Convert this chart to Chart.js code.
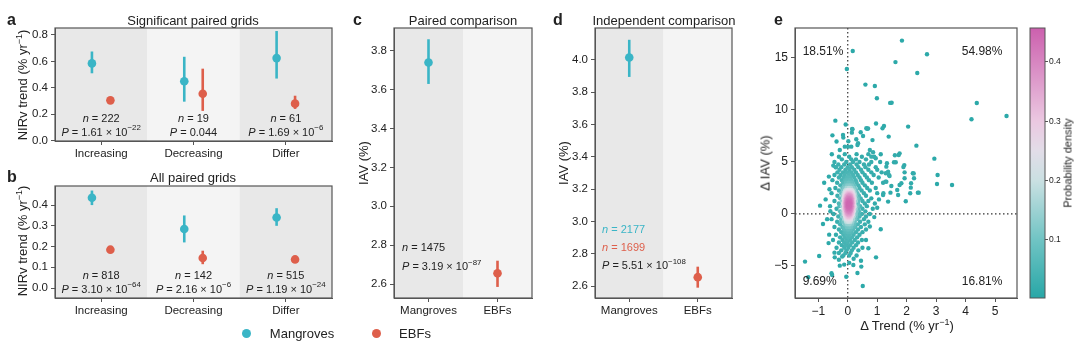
<!DOCTYPE html>
<html>
<head>
<meta charset="utf-8">
<script src="https://cdn.jsdelivr.net/npm/chart.js@4.4.1/dist/chart.umd.min.js"></script>
<style>
body { margin: 0; width: 1080px; height: 350px; background: #fff; position: relative; overflow: hidden;
       font-family: "Liberation Sans", Arial, sans-serif; color: #222; }
canvas { position: absolute; }
.t { position: absolute; white-space: nowrap; line-height: 1; transform: translate(-50%, -50%); font-size: 13px; }
.r { transform: translate(-50%, -50%) rotate(-90deg); }
.lab { position: absolute; font-weight: bold; font-size: 16px; line-height: 1; }
.dot { position: absolute; width: 9px; height: 9px; border-radius: 50%; }
sup { font-size: 9px; }
</style>
</head>
<body>
<canvas id="cA" width="340" height="165" style="left:0;top:0"></canvas>
<canvas id="cB" width="340" height="165" style="left:0;top:160px"></canvas>
<canvas id="cC" width="200" height="325" style="left:340px;top:0"></canvas>
<canvas id="cD" width="200" height="325" style="left:540px;top:0"></canvas>
<canvas id="cE" width="285" height="340" style="left:740px;top:0"></canvas>
<canvas id="cBar" width="40" height="325" style="left:1025px;top:0"></canvas>

<div class="lab" style="left:7px;top:12px">a</div>
<div class="lab" style="left:7px;top:169px">b</div>
<div class="lab" style="left:353px;top:12px">c</div>
<div class="lab" style="left:553px;top:12px">d</div>
<div class="lab" style="left:774px;top:12px">e</div>

<div class="t" style="left:193px;top:20px">Significant paired grids</div>
<div class="t" style="left:193px;top:177px">All paired grids</div>
<div class="t" style="left:463px;top:20px">Paired comparison</div>
<div class="t" style="left:664px;top:20px">Independent comparison</div>

<div class="t r" style="left:22px;top:85px">NIRv trend (% yr<sup>−1</sup>)</div>
<div class="t r" style="left:22px;top:241px">NIRv trend (% yr<sup>−1</sup>)</div>
<div class="t r" style="left:363px;top:163px">IAV (%)</div>
<div class="t r" style="left:563px;top:163px">IAV (%)</div>
<div class="t r" style="left:765px;top:163px">Δ IAV (%)</div>
<div class="t" style="left:907px;top:325px">Δ Trend (% yr<sup>−1</sup>)</div>
<div class="t r" style="left:1068px;top:163px;font-size:11px">Probability density</div>

<div class="dot" style="left:242px;top:329px;background:#3ab5c6"></div>
<div class="t" style="left:302px;top:333px">Mangroves</div>
<div class="dot" style="left:372px;top:329px;background:#de5f4b"></div>
<div class="t" style="left:415px;top:333px">EBFs</div>

<script>
// ---- data ----
const trendCats = ['Increasing', 'Decreasing', 'Differ'];

const sigMangrove = [0.585, 0.45, 0.625];
const sigMangroveLo = [0.51, 0.295, 0.47];
const sigMangroveHi = [0.675, 0.635, 0.83];
const sigEbf = [0.305, 0.355, 0.28];
const sigEbfLo = [0.29, 0.225, 0.24];
const sigEbfHi = [0.32, 0.545, 0.34];
const sigN = ['222', '19', '61'];
const sigP = [['1.61', '−22'], ['0.044', ''], ['1.69', '−6']];
const sigTicks = [0, 0.2, 0.4, 0.6, 0.8];

const allMangrove = [0.435, 0.285, 0.34];
const allMangroveLo = [0.40, 0.22, 0.30];
const allMangroveHi = [0.47, 0.35, 0.385];
const allEbf = [0.185, 0.145, 0.138];
const allEbfLo = [0.179, 0.115, 0.132];
const allEbfHi = [0.191, 0.18, 0.144];
const allN = ['818', '142', '515'];
const allP = [['3.10', '−64'], ['2.16', '−6'], ['1.19', '−24']];
const allTicks = [0, 0.1, 0.2, 0.3, 0.4];

const iavCats = ['Mangroves', 'EBFs'];
const pairedIav = [3.74, 2.655];
const pairedLo = [3.63, 2.585];
const pairedHi = [3.86, 2.72];
const pairedTicks = [2.6, 2.8, 3.0, 3.2, 3.4, 3.6, 3.8];

const indepIav = [4.015, 2.655];
const indepLo = [3.895, 2.59];
const indepHi = [4.125, 2.72];
const indepTicks = [2.6, 2.8, 3.0, 3.2, 3.4, 3.6, 3.8, 4.0];

const trendTicks = [-1, 0, 1, 2, 3, 4, 5];
const deltaIavTicks = [-5, 0, 5, 10, 15];
const quadrantPct = ['18.51%', '54.98%', '9.69%', '16.81%'];
const densityTicks = [0.1, 0.2, 0.3, 0.4];

// scattered points [dTrend, dIAV]
const scatterOuter = [
  [1.84,16.67],[0.17,15.67],[1.62,14.6],[2.69,15.35],[-0.03,13.94],[2.36,13.56],[0.6,12.44],[0.92,12.3],
  [0.99,11.12],[1.49,10.7],[1.44,10.68],[4.38,10.67],[4.2,9.1],[5.39,9.42],[-0.42,8.97],[-0.07,8.6],
  [0.96,8.7],[1.23,8.46],[1.18,8.24],[0.63,8.24],[0.69,8.22],[2.05,8.4],[0.15,8.17],[-0.52,7.56],
  [1.39,7.44],[0.84,7.1],[2.33,6.57],[-0.15,7.34],[-0.38,6.96],[0.01,6.47],[0.33,6.63],[-0.54,5.74],
  [1.76,5.83],[1.73,5.67],[1.6,5.64],[2.94,5.32],[0.8,5.51],[1.12,5.74],[-0.49,4.65],[-0.41,4.49],
  [1.57,4.97],[1.33,4.87],[1.89,4.52],[1.93,4.0],[1.29,3.91],[1.37,4.07],[1.4,3.75],[2.21,3.91],
  [3.05,3.75],[-0.64,3.59],[2.25,3.43],[1.28,3.11],[2.15,2.95],[3.03,2.88],[3.54,2.79],[-0.62,2.37],
  [1.76,2.79],[2.12,1.99],[2.41,2.05],[1.71,1.83],[1.45,2.05],[1.21,1.99],[1.97,1.22],[-0.94,0.8],
  [-0.59,0.26],[-0.84,-0.96],[1.12,-1.47],[-0.63,-1.99],[0.96,-4.17],[-1.45,-4.58],[-0.97,-4.04],
  [-0.45,-3.72],[-0.44,-4.17],[-0.19,-4.1],[0.19,-4.9],[0.46,-5.06],[0.33,-5.67],[-0.27,-4.97],
  [-0.12,-4.87],[-0.55,-5.7],[-0.53,-5.87],[-0.05,-6.03],[0.51,-6.92],[-1.34,-6.09],
  [0.16,8.14],[0.14,7.82],[-0.16,7.6],[0.44,7.85],[0.66,8.2],[0.52,7.5],[0.29,7.18],[0.35,6.8],
  [0.02,6.99],[0.12,6.47],[-0.1,6.47],[-0.27,6.15],[0.75,6.15],[0.86,5.93],[0.95,5.35],[1.31,4.55],
  [1.63,4.97],[1.92,4.7],[2.24,3.9],[1.93,3.43],[1.82,2.95],[1.68,2.3],[1.48,2.69],[1.31,3.1],
  [1.42,3.65],[1.2,1.83],[1.37,1.19],[2.38,2.05],[2.14,2.53],[1.06,1.4],[1.0,0.6],[0.9,-0.3],
  [0.75,-1.2],[0.62,-2.5],[0.7,-3.3],[-0.7,-0.5],[-0.75,1.4],[-0.8,3.0],[-0.65,-2.8],[0.45,-4.5],
  [0.05,-4.7],[-0.3,-4.4],[0.2,-4.3]
];
// loose cloud around the core, one row per dIAV level: [dIAV, [dTrend...]]
const scatterCoreRows = [
  [5.75, [-0.1, 0.3, 0.7]],
  [5.5, [-0.3, 0.05, 0.48, 0.9]],
  [5.25, [-0.2, 0.12, 0.28, 0.62]],
  [5.0, [-0.45, -0.05, 0.18, 0.4, 0.8, 1.1]],
  [4.75, [-0.32, -0.12, 0.08, 0.3, 0.55, 0.72]],
  [4.5, [-0.4, -0.22, 0.0, 0.14, 0.36, 0.6, 0.95]],
  [4.25, [-0.28, -0.08, 0.06, 0.22, 0.45, 0.7, 1.0]],
  [4.0, [-0.35, -0.16, -0.02, 0.12, 0.28, 0.5, 0.8, 1.15]],
  [3.75, [-0.45, -0.24, -0.1, 0.04, 0.18, 0.34, 0.58, 0.88]],
  [3.5, [-0.3, -0.14, 0.09, 0.22, 0.4, 0.65, 1.05]],
  [3.25, [-0.52, -0.2, -0.08, 0.13, 0.27, 0.45, 0.72]],
  [3.0, [-0.36, -0.16, 0.17, 0.3, 0.5, 0.82, 1.2]],
  [2.75, [-0.25, 0.21, 0.36, 0.58]],
  [2.5, [-0.42, -0.18, 0.24, 0.4, 0.66, 0.95]],
  [2.25, [-0.3, 0.29, 0.47, 0.75]],
  [2.0, [-0.55, -0.22, 0.33, 0.55, 1.0]],
  [1.75, [-0.35, 0.38, 0.62]],
  [1.5, [-0.26, 0.33, 0.44, 0.8]],
  [1.25, [-0.45, 0.36, 0.5, 0.7]],
  [1.0, [-0.3, 0.35, 0.58, 0.92]],
  [0.75, [-0.6, -0.28, 0.33, 0.42, 0.65]],
  [0.5, [-0.38, 0.36, 0.5, 0.85]],
  [0.25, [-0.26, 0.3, 0.38, 0.6]],
  [0.0, [-0.48, -0.22, 0.36, 0.48, 0.75]],
  [-0.25, [-0.32, 0.28, 0.4, 0.62]],
  [-0.5, [-0.55, -0.22, 0.25, 0.32, 0.55]],
  [-0.75, [-0.36, -0.22, 0.24, 0.42, 0.7]],
  [-1.0, [-0.26, 0.22, 0.34, 0.58]],
  [-1.25, [-0.45, -0.18, 0.2, 0.25, 0.45]],
  [-1.5, [-0.3, -0.13, 0.18, 0.35, 0.62]],
  [-1.75, [-0.22, 0.13, 0.28, 0.5]],
  [-2.0, [-0.4, -0.15, -0.04, 0.07, 0.2, 0.4]],
  [-2.25, [-0.26, -0.1, 0.02, 0.14, 0.32]],
  [-2.5, [-0.5, -0.18, -0.05, 0.08, 0.24, 0.48]],
  [-2.75, [-0.3, -0.12, 0.0, 0.15, 0.35]],
  [-3.0, [-0.2, -0.06, 0.08, 0.28]],
  [-3.25, [-0.38, -0.12, 0.02, 0.2, 0.5]],
  [-3.5, [-0.22, -0.04, 0.14, 0.36]],
  [-3.75, [-0.3, -0.08, 0.1]],
  [-4.0, [-0.15, 0.05, 0.3]]
];
// halo of the core
const scatterHaloRows = [
  [3.5, [-0.03, 0.02]],
  [3.25, [-0.04, 0.06]],
  [3.0, [-0.06, 0.03, 0.12]],
  [2.75, [-0.1, -0.02, 0.06, 0.14]],
  [2.5, [-0.12, -0.04, 0.04, 0.11, 0.19]],
  [2.25, [-0.16, -0.08, 0.0, 0.07, 0.14, 0.22]],
  [2.0, [-0.14, -0.06, 0.02, 0.09, 0.16, 0.24]],
  [1.75, [-0.18, -0.1, -0.03, 0.04, 0.1, 0.17, 0.26]],
  [1.5, [-0.15, -0.08, -0.01, 0.05, 0.11, 0.18, 0.25]],
  [1.25, [-0.2, -0.11, -0.04, 0.02, 0.07, 0.13, 0.2, 0.28]],
  [1.0, [-0.16, -0.08, -0.02, 0.04, 0.09, 0.15, 0.22]],
  [0.75, [-0.19, -0.11, -0.04, 0.01, 0.06, 0.11, 0.17, 0.25]],
  [0.5, [-0.15, -0.07, -0.01, 0.04, 0.08, 0.13, 0.19, 0.27]],
  [0.25, [-0.18, -0.1, -0.03, 0.03, 0.08, 0.14, 0.21]],
  [0.0, [-0.14, -0.06, 0.0, 0.06, 0.12, 0.19, 0.27]],
  [-0.25, [-0.17, -0.08, -0.01, 0.05, 0.12, 0.2]],
  [-0.5, [-0.12, -0.04, 0.03, 0.1, 0.18]],
  [-0.75, [-0.15, -0.06, 0.02, 0.09, 0.16]],
  [-1.0, [-0.1, -0.02, 0.06, 0.14]],
  [-1.25, [-0.12, -0.03, 0.05, 0.12]],
  [-1.5, [-0.08, 0.01, 0.09]],
  [-1.75, [-0.1, 0.0, 0.06]]
];
// packed peak of the cloud
const scatterPeakRows = [
  [2.25, [-0.08, -0.04, 0.0, 0.04, 0.08, 0.12, 0.16]],
  [2.125, [-0.1, -0.06, -0.02, 0.02, 0.06, 0.1, 0.14, 0.18]],
  [2.0, [-0.09, -0.05, -0.01, 0.03, 0.07, 0.11, 0.15]],
  [1.875, [-0.11, -0.07, -0.03, 0.01, 0.05, 0.09, 0.13, 0.17, 0.21]],
  [1.75, [-0.1, -0.06, -0.02, 0.02, 0.05, 0.08, 0.11, 0.14, 0.18]],
  [1.625, [-0.12, -0.08, -0.04, 0.0, 0.03, 0.06, 0.09, 0.12, 0.16, 0.2]],
  [1.5, [-0.1, -0.06, -0.03, 0.0, 0.03, 0.06, 0.09, 0.12, 0.15, 0.19]],
  [1.375, [-0.13, -0.09, -0.05, -0.02, 0.01, 0.04, 0.07, 0.1, 0.13, 0.17, 0.21]],
  [1.25, [-0.11, -0.07, -0.04, -0.01, 0.02, 0.05, 0.08, 0.11, 0.14, 0.18]],
  [1.125, [-0.12, -0.08, -0.05, -0.02, 0.01, 0.04, 0.07, 0.1, 0.13, 0.16, 0.2]],
  [1.0, [-0.1, -0.07, -0.04, -0.01, 0.02, 0.05, 0.08, 0.11, 0.14, 0.18]],
  [0.875, [-0.13, -0.09, -0.05, -0.02, 0.01, 0.04, 0.07, 0.1, 0.13, 0.17, 0.21]],
  [0.75, [-0.11, -0.07, -0.04, -0.01, 0.02, 0.05, 0.08, 0.11, 0.14, 0.18]],
  [0.625, [-0.12, -0.08, -0.05, -0.02, 0.01, 0.04, 0.07, 0.1, 0.13, 0.16, 0.2]],
  [0.5, [-0.1, -0.07, -0.04, -0.01, 0.02, 0.05, 0.08, 0.11, 0.15, 0.19]],
  [0.375, [-0.11, -0.07, -0.03, 0.0, 0.03, 0.06, 0.09, 0.12, 0.16]],
  [0.25, [-0.09, -0.05, -0.02, 0.01, 0.04, 0.07, 0.1, 0.14, 0.18]],
  [0.125, [-0.1, -0.06, -0.02, 0.02, 0.05, 0.08, 0.12, 0.16]],
  [0.0, [-0.08, -0.04, 0.0, 0.04, 0.08, 0.12, 0.16]],
  [-0.125, [-0.09, -0.05, -0.01, 0.03, 0.07, 0.11, 0.15]],
  [-0.25, [-0.07, -0.03, 0.01, 0.05, 0.09, 0.13]],
  [-0.375, [-0.08, -0.04, 0.0, 0.04, 0.08, 0.12]],
  [-0.5, [-0.06, -0.02, 0.02, 0.06, 0.1]],
  [-0.625, [-0.05, 0.0, 0.05, 0.1]],
  [-0.75, [-0.04, 0.02, 0.08]]
];

// ---- styling ----
const FONT = '"Liberation Sans", Arial, sans-serif';
Chart.defaults.font.family = FONT;
Chart.defaults.color = '#222';
const MANG = '#3ab5c6', EBF = '#de5f4b';
const DARK = '#e8e8e8', LIGHT = '#f4f4f4', AXIS = '#555';

function drawRich(ctx, parts, x, y, align, size, color) {
  ctx.save();
  const fonts = parts.map(p => (p.it ? 'italic ' : '') + (p.sup ? size * 0.72 : size) + 'px ' + FONT);
  let w = 0;
  parts.forEach((p, i) => { ctx.font = fonts[i]; w += ctx.measureText(p.t).width; });
  let cx = align === 'center' ? x - w / 2 : x;
  ctx.fillStyle = color || '#222';
  ctx.textBaseline = 'middle';
  ctx.textAlign = 'left';
  parts.forEach((p, i) => {
    ctx.font = fonts[i];
    ctx.fillText(p.t, cx, p.sup ? y - size * 0.42 : y);
    cx += ctx.measureText(p.t).width;
  });
  ctx.restore();
}

function pParts(p) {
  return [{ t: 'P', it: true }, { t: ' = ' + p[0] + (p[1] ? ' × 10' : '') }, { t: p[1], sup: true }];
}

function axisOpts(extra) {
  return Object.assign({
    grid: { drawOnChartArea: false, tickLength: 4, color: AXIS },
    border: { color: AXIS },
  }, extra);
}

function makeDotChart(id, o) {
  const panelPlugin = {
    id: 'panel' + id,
    beforeDraw(chart) {
      const { ctx, chartArea: a, scales: { x } } = chart;
      o.bands.forEach((c, i) => {
        const l = x.getPixelForValue(i - 0.5), r = x.getPixelForValue(i + 0.5);
        ctx.fillStyle = c;
        ctx.fillRect(l, a.top, r - l, a.bottom - a.top);
      });
    },
    beforeDatasetsDraw(chart) {
      const { ctx, scales: { x, y } } = chart;
      ctx.save();
      ctx.lineWidth = 2.6;
      chart.data.datasets.forEach(ds => {
        ds.data.forEach((p, i) => {
          ctx.strokeStyle = Array.isArray(ds.backgroundColor) ? ds.backgroundColor[i] : ds.backgroundColor;
          const px = x.getPixelForValue(p.x);
          ctx.beginPath();
          ctx.moveTo(px, y.getPixelForValue(ds.lo[i]));
          ctx.lineTo(px, y.getPixelForValue(ds.hi[i]));
          ctx.stroke();
        });
      });
      ctx.restore();
    },
    afterDraw(chart) {
      const { ctx, chartArea: a } = chart;
      ctx.save();
      ctx.strokeStyle = AXIS;
      ctx.lineWidth = 1.2;
      ctx.strokeRect(a.left, a.top, a.right - a.left, a.bottom - a.top);
      ctx.restore();
      o.notes(chart);
    }
  };
  return new Chart(document.getElementById(id), {
    type: 'scatter',
    data: {
      datasets: o.series.map(s => ({
        data: s.data.map((v, i) => ({ x: i + s.offset, y: v })),
        lo: s.lo, hi: s.hi,
        backgroundColor: s.color,
        pointRadius: 4.3, pointHoverRadius: 4.3, borderWidth: 0
      }))
    },
    options: {
      responsive: false, animation: false, events: [],
      layout: { padding: o.pad },
      plugins: { legend: { display: false }, tooltip: { enabled: false } },
      scales: {
        x: axisOpts({
          type: 'linear', min: -0.5, max: o.cats.length - 0.5,
          afterBuildTicks: s => { s.ticks = o.cats.map((c, i) => ({ value: i })); },
          afterFit: s => { s.height = o.xHeight; },
          ticks: { callback: v => o.cats[v], font: { size: 11.5 }, padding: 2, maxRotation: 0, autoSkip: false }
        }),
        y: axisOpts({
          min: o.ymin, max: o.ymax,
          afterBuildTicks: s => { s.ticks = o.yTicks.map(v => ({ value: v })); },
          afterFit: s => { s.width = o.yWidth; },
          ticks: { callback: v => v.toFixed(1), font: { size: 11.5 }, padding: 3 }
        })
      }
    },
    plugins: [panelPlugin]
  });
}

function trendNotes(nArr, pArr) {
  return chart => {
    const { ctx, chartArea: a, scales: { x } } = chart;
    nArr.forEach((n, i) => {
      const cx = x.getPixelForValue(i);
      drawRich(ctx, [{ t: 'n', it: true }, { t: ' = ' + n }], cx, a.bottom - 22.5, 'center', 11);
      drawRich(ctx, pParts(pArr[i]), cx, a.bottom - 8.5, 'center', 11);
    });
  };
}

makeDotChart('cA', {
  cats: trendCats, bands: [DARK, LIGHT, DARK],
  series: [
    { data: sigMangrove, lo: sigMangroveLo, hi: sigMangroveHi, color: MANG, offset: -0.1 },
    { data: sigEbf, lo: sigEbfLo, hi: sigEbfHi, color: EBF, offset: 0.1 }
  ],
  ymin: -0.003, ymax: 0.853, yTicks: sigTicks,
  pad: { top: 28, right: 8, left: 0, bottom: 0 }, yWidth: 55, xHeight: 24,
  notes: trendNotes(sigN, sigP)
});

makeDotChart('cB', {
  cats: trendCats, bands: [DARK, LIGHT, DARK],
  series: [
    { data: allMangrove, lo: allMangroveLo, hi: allMangroveHi, color: MANG, offset: -0.1 },
    { data: allEbf, lo: allEbfLo, hi: allEbfHi, color: EBF, offset: 0.1 }
  ],
  ymin: -0.048, ymax: 0.492, yTicks: allTicks,
  pad: { top: 26, right: 8, left: 0, bottom: 0 }, yWidth: 55, xHeight: 27,
  notes: trendNotes(allN, allP)
});

makeDotChart('cC', {
  cats: iavCats, bands: [DARK, LIGHT],
  series: [{ data: pairedIav, lo: pairedLo, hi: pairedHi, color: [MANG, EBF], offset: 0 }],
  ymin: 2.528, ymax: 3.918, yTicks: pairedTicks,
  pad: { top: 28, right: 8, left: 0, bottom: 0 }, yWidth: 54, xHeight: 27,
  notes: chart => {
    const { ctx, chartArea: a } = chart;
    drawRich(ctx, [{ t: 'n', it: true }, { t: ' = 1475' }], a.left + 8, a.bottom - 50, 'left', 11);
    drawRich(ctx, pParts(['3.19', '−87']), a.left + 8, a.bottom - 31, 'left', 11);
  }
});

makeDotChart('cD', {
  cats: iavCats, bands: [DARK, LIGHT],
  series: [{ data: indepIav, lo: indepLo, hi: indepHi, color: [MANG, EBF], offset: 0 }],
  ymin: 2.526, ymax: 4.198, yTicks: indepTicks,
  pad: { top: 28, right: 8, left: 0, bottom: 0 }, yWidth: 55, xHeight: 27,
  notes: chart => {
    const { ctx, chartArea: a } = chart;
    drawRich(ctx, [{ t: 'n', it: true }, { t: ' = 2177' }], a.left + 7, a.bottom - 68, 'left', 11, MANG);
    drawRich(ctx, [{ t: 'n', it: true }, { t: ' = 1699' }], a.left + 7, a.bottom - 50, 'left', 11, EBF);
    drawRich(ctx, pParts(['5.51', '−108']), a.left + 7, a.bottom - 32, 'left', 11);
  }
});

// ---- panel e: density-coloured scatter ----
const cmapStops = [
  [0, [40, 167, 167]], [0.1, [112, 196, 196]], [0.2, [202, 224, 226]],
  [0.25, [226, 221, 232]], [0.3, [235, 200, 225]], [0.46, [204, 96, 174]]
];
function cmap(v) {
  for (let i = 1; i < cmapStops.length; i++) {
    if (v <= cmapStops[i][0] || i === cmapStops.length - 1) {
      const [v0, c0] = cmapStops[i - 1], [v1, c1] = cmapStops[i];
      const f = Math.max(0, Math.min(1, (v - v0) / (v1 - v0)));
      return 'rgb(' + c0.map((c, k) => Math.round(c + (c1[k] - c) * f)).join(',') + ')';
    }
  }
}

const rowsToPts = rows => rows.flatMap(([y, xs]) => xs.map(x => ({ x, y })));
const pts = scatterOuter.map(([x, y]) => ({ x, y }))
  .concat(rowsToPts(scatterCoreRows), rowsToPts(scatterHaloRows), rowsToPts(scatterPeakRows));
(function kde() {
  const n = pts.length;
  const mean = k => pts.reduce((s, p) => s + p[k], 0) / n;
  const sd = k => { const m = mean(k); return Math.sqrt(pts.reduce((s, p) => s + (p[k] - m) ** 2, 0) / (n - 1)); };
  const f = 0.45 * Math.pow(n, -1 / 6);
  const hx = sd('x') * f, hy = sd('y') * f;
  pts.forEach(p => {
    let s = 0;
    pts.forEach(q => { s += Math.exp(-0.5 * (((p.x - q.x) / hx) ** 2 + ((p.y - q.y) / hy) ** 2)); });
    p.d = s;
  });
  const dmax = Math.max(...pts.map(p => p.d));
  pts.forEach(p => { p.v = p.d / dmax * 0.45; });
  pts.sort((a, b) => a.v - b.v);
})();

const scatterPlugin = {
  id: 'scatterE',
  beforeDatasetsDraw(chart) {
    const { ctx, chartArea: a, scales: { x, y } } = chart;
    ctx.save();
    ctx.strokeStyle = '#333';
    ctx.lineWidth = 1.2;
    ctx.setLineDash([1.5, 2.5]);
    const x0 = x.getPixelForValue(0), y0 = y.getPixelForValue(0);
    ctx.beginPath(); ctx.moveTo(x0, a.top); ctx.lineTo(x0, a.bottom); ctx.stroke();
    ctx.beginPath(); ctx.moveTo(a.left, y0); ctx.lineTo(a.right, y0); ctx.stroke();
    ctx.restore();
  },
  afterDraw(chart) {
    const { ctx, chartArea: a, scales: { x, y } } = chart;
    ctx.save();
    ctx.strokeStyle = AXIS;
    ctx.lineWidth = 1.2;
    ctx.strokeRect(a.left, a.top, a.right - a.left, a.bottom - a.top);
    ctx.font = '12px ' + FONT;
    ctx.fillStyle = '#222';
    ctx.textBaseline = 'middle';
    const top = y.getPixelForValue(15.6), bot = y.getPixelForValue(-6.54);
    const l = x.getPixelForValue(-1.53), r = x.getPixelForValue(5.25);
    ctx.textAlign = 'left';
    ctx.fillText(quadrantPct[0], l, top);
    ctx.fillText(quadrantPct[2], l, bot);
    ctx.textAlign = 'right';
    ctx.fillText(quadrantPct[1], r, top);
    ctx.fillText(quadrantPct[3], r, bot);
    ctx.restore();
  }
};

new Chart(document.getElementById('cE'), {
  type: 'scatter',
  data: {
    datasets: [{
      data: pts.map(p => ({ x: p.x, y: p.y })),
      backgroundColor: pts.map(p => cmap(p.v)),
      pointRadius: 2.2, pointHoverRadius: 2.2, borderWidth: 0
    }]
  },
  options: {
    responsive: false, animation: false, events: [],
    layout: { padding: { top: 28, right: 8, left: 0, bottom: 0 } },
    plugins: { legend: { display: false }, tooltip: { enabled: false } },
    scales: {
      x: axisOpts({
        min: -1.79, max: 5.745,
        afterBuildTicks: s => { s.ticks = trendTicks.map(v => ({ value: v })); },
        afterFit: s => { s.height = 42; },
        ticks: { callback: v => String(v).replace('-', '−'), font: { size: 12 }, padding: 2 }
      }),
      y: axisOpts({
        min: -8.08, max: 17.88,
        afterBuildTicks: s => { s.ticks = deltaIavTicks.map(v => ({ value: v })); },
        afterFit: s => { s.width = 55; },
        ticks: { callback: v => String(v).replace('-', '−'), font: { size: 12 }, padding: 3 }
      })
    }
  },
  plugins: [scatterPlugin]
});

// ---- colour bar ----
const barPlugin = {
  id: 'bar',
  beforeDraw(chart) {
    const { ctx, chartArea: a, scales: { y } } = chart;
    const g = ctx.createLinearGradient(0, a.bottom, 0, a.top);
    const span = y.max - y.min;
    cmapStops.forEach(([v]) => {
      const f = Math.max(0, Math.min(1, (v - y.min) / span));
      g.addColorStop(f, cmap(v));
    });
    ctx.fillStyle = g;
    ctx.fillRect(a.left, a.top, a.right - a.left, a.bottom - a.top);
    ctx.strokeStyle = AXIS;
    ctx.lineWidth = 1;
    ctx.strokeRect(a.left, a.top, a.right - a.left, a.bottom - a.top);
  }
};
new Chart(document.getElementById('cBar'), {
  type: 'scatter',
  data: { datasets: [{ data: [] }] },
  options: {
    responsive: false, animation: false, events: [],
    layout: { padding: { top: 28, left: 5, right: 0, bottom: 27 } },
    plugins: { legend: { display: false }, tooltip: { enabled: false } },
    scales: {
      x: { display: false, min: 0, max: 1 },
      y: {
        position: 'right', min: 0.002, max: 0.457,
        afterBuildTicks: s => { s.ticks = densityTicks.map(v => ({ value: v })); },
        afterFit: s => { s.width = 20; },
        grid: { drawOnChartArea: false, tickLength: 3, color: AXIS },
        border: { display: false },
        ticks: { callback: v => v.toFixed(1), font: { size: 8.5 }, padding: 1 }
      }
    }
  },
  plugins: [barPlugin]
});
</script>
</body>
</html>
